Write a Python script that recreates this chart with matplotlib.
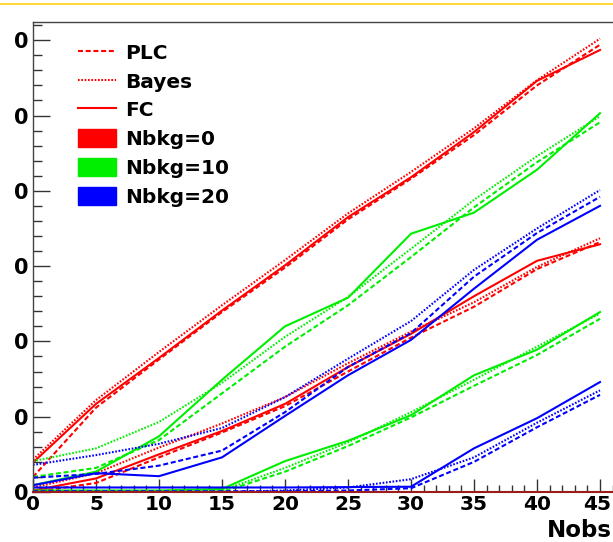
import numpy as np
import matplotlib
matplotlib.use('Agg')
import matplotlib.pyplot as plt
from matplotlib.lines import Line2D
from matplotlib.patches import Patch
from matplotlib.ticker import MultipleLocator
from matplotlib.transforms import ScaledTranslation

plt.rcParams['font.family'] = 'DejaVu Sans'
plt.rcParams['font.weight'] = 'bold'

nobs = [0, 5, 10, 15, 20, 25, 30, 35, 40, 45]

# upper limits
up_fc_b0 = [3.9, 11.7, 17.8, 24.1, 30.1, 36.5, 41.8, 47.8, 54.6, 58.7]
up_plc_b0 = [2.0, 11.2, 17.6, 23.9, 29.8, 36.2, 41.6, 47.4, 54.0, 59.4]
up_bay_b0 = [4.3, 12.2, 18.6, 24.8, 30.8, 37.0, 42.5, 48.3, 54.7, 60.2]

up_fc_b10 = [0.9, 2.7, 7.4, 14.9, 22.0, 25.8, 34.3, 37.1, 42.8, 50.3]
up_plc_b10 = [2.0, 3.2, 6.9, 13.1, 19.3, 24.8, 31.2, 37.8, 43.8, 49.1]
up_bay_b10 = [4.1, 5.8, 9.3, 14.5, 20.6, 25.9, 32.3, 38.8, 44.6, 49.9]

up_fc_b20 = [0.9, 2.5, 2.1, 4.6, 10.1, 15.5, 20.2, 27.0, 33.5, 38.0]
up_plc_b20 = [1.9, 2.4, 3.5, 5.5, 10.6, 16.6, 21.1, 28.6, 34.4, 39.2]
up_bay_b20 = [3.6, 4.9, 6.4, 8.5, 12.6, 17.7, 22.7, 29.5, 35.0, 40.1]

# lower limits
lo_fc_b0 = [0.2, 1.8, 5.0, 8.1, 11.7, 16.6, 21.0, 26.0, 30.7, 32.9]
lo_plc_b0 = [0.0, 1.2, 4.6, 7.9, 11.4, 16.0, 20.5, 24.6, 29.6, 33.2]
lo_bay_b0 = [0.6, 2.5, 5.9, 9.1, 12.6, 17.1, 21.3, 25.2, 29.9, 33.7]

lo_fc_b10 = [0.2, 0.2, 0.2, 0.4, 4.1, 6.8, 10.2, 15.5, 18.9, 23.9]
lo_plc_b10 = [0.0, 0.0, 0.0, 0.0, 2.7, 6.1, 9.9, 14.1, 18.2, 23.0]
lo_bay_b10 = [0.0, 0.0, 0.0, 0.2, 3.2, 6.6, 10.6, 14.9, 19.3, 23.7]

lo_fc_b20 = [0.6, 0.6, 0.6, 0.6, 0.6, 0.65, 0.7, 5.8, 9.8, 14.6]
lo_plc_b20 = [0.1, 0.1, 0.1, 0.1, 0.1, 0.2, 0.5, 4.0, 8.6, 12.9]
lo_bay_b20 = [0.0, 0.0, 0.0, 0.0, 0.2, 0.6, 1.7, 4.6, 9.2, 13.5]

ytick_labels = ['0', '0', '0', '0', '0', '0', '0']

dashed = (0, (2.4, 1.3))
dotted = (0, (0.8, 0.8))
lw = 1.5

W, H = 613, 542
fig = plt.figure(figsize=(W / 100, H / 100), dpi=100)
ax = fig.add_axes([33 / W, 50 / H, 46.5 * 12.6 / W, 470 / H])

curves = [
    ('red', up_plc_b0, up_bay_b0, up_fc_b0, lo_plc_b0, lo_bay_b0, lo_fc_b0),
    ('#00ee00', up_plc_b10, up_bay_b10, up_fc_b10, lo_plc_b10, lo_bay_b10, lo_fc_b10),
    ('blue', up_plc_b20, up_bay_b20, up_fc_b20, lo_plc_b20, lo_bay_b20, lo_fc_b20),
]
for c, u_plc, u_bay, u_fc, l_plc, l_bay, l_fc in curves:
    ax.plot(nobs, u_plc, color=c, lw=lw, ls=dashed)
    ax.plot(nobs, u_bay, color=c, lw=lw, ls=dotted)
    ax.plot(nobs, u_fc, color=c, lw=lw)
    ax.plot(nobs, l_plc, color=c, lw=lw, ls=dashed)
    ax.plot(nobs, l_bay, color=c, lw=lw, ls=dotted)
    ax.plot(nobs, l_fc, color=c, lw=lw)

ax.set_xlim(0, 46.5)
ax.set_ylim(0, 470 / 7.53)

ax.set_xticks(nobs)
ax.xaxis.set_minor_locator(MultipleLocator(1))
ax.set_yticks(np.arange(0, 61, 10))
ax.set_yticklabels(ytick_labels)
ax.yaxis.set_minor_locator(MultipleLocator(2))

ax.tick_params(axis='both', which='both', direction='in', colors='#333333', width=1.0, labelcolor='black')
ax.tick_params(axis='y', which='major', length=12.5, pad=3.5, labelsize=15)
ax.tick_params(axis='y', which='minor', length=6.5)
ax.tick_params(axis='x', which='major', length=9.5, pad=2.5, labelsize=14.5)
ax.tick_params(axis='x', which='minor', length=5)

# last x label sits right at the image edge, nudge it in a little
last = ax.xaxis.get_major_ticks()[-1].label1
last.set_transform(last.get_transform() + ScaledTranslation(-3 / 100, 0, fig.dpi_scale_trans))

for s in ['left', 'top', 'right']:
    ax.spines[s].set_color('#444444')
    ax.spines[s].set_linewidth(1.0)
ax.spines['bottom'].set_color('#9a1c1c')
ax.spines['bottom'].set_linewidth(1.5)

handles = [
    Line2D([], [], color='red', lw=lw, ls=dashed),
    Line2D([], [], color='red', lw=lw, ls=dotted),
    Line2D([], [], color='red', lw=lw),
    Patch(facecolor='red', edgecolor='red'),
    Patch(facecolor='#00ee00', edgecolor='#00ee00'),
    Patch(facecolor='blue', edgecolor='blue'),
]
labels = ['PLC', 'Bayes', 'FC', 'Nbkg=0', 'Nbkg=10', 'Nbkg=20']
ax.legend(handles, labels, loc='upper left', bbox_to_anchor=(78 / W, 1 - 43 / H),
          bbox_transform=fig.transFigure, frameon=False,
          prop={'family': 'DejaVu Sans', 'weight': 'bold', 'size': 14.5},
          handlelength=1.9, handleheight=1.0, handletextpad=0.45,
          labelspacing=0.44, borderpad=0, borderaxespad=0)

fig.text(1.0 - 1 / W, 5 / H, 'Nobs', ha='right', va='baseline', fontsize=16.5, fontweight='bold')
fig.add_artist(Line2D([0, 1], [1 - 4 / H, 1 - 4 / H], color='#ffd93b', lw=1.5, transform=fig.transFigure))

fig.savefig('out.png', dpi=100)
